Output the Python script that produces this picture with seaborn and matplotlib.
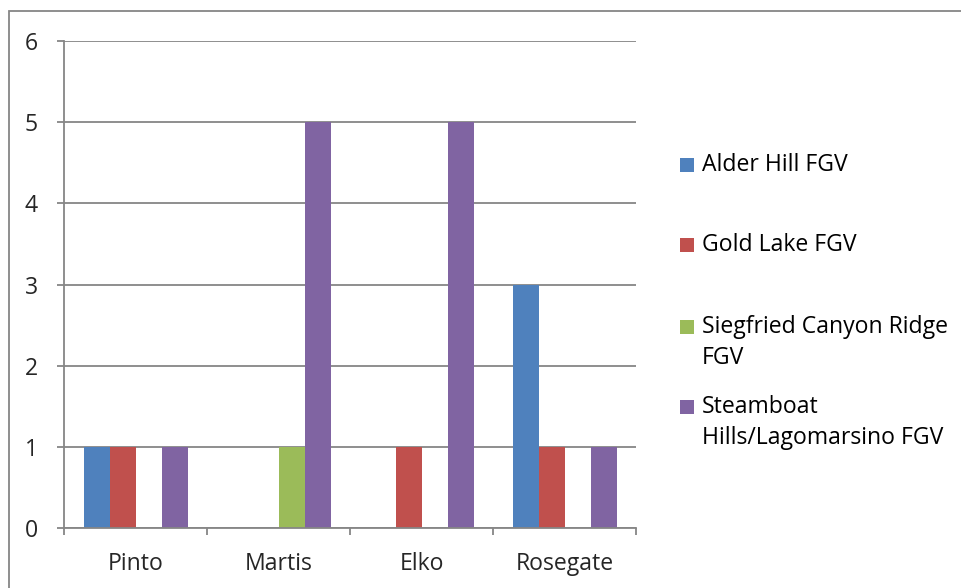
import matplotlib
matplotlib.use("Agg")
import matplotlib.pyplot as plt
from matplotlib.patches import Rectangle
import seaborn as sns
import pandas as pd

# Counts of obsidian sources by projectile point type
point_types = ["Pinto", "Martis", "Elko", "Rosegate"]
sources = [
    "Alder Hill FGV",
    "Gold Lake FGV",
    "Siegfried Canyon Ridge FGV",
    "Steamboat Hills/Lagomarsino FGV",
]
legend_labels = [
    ["Alder Hill FGV"],
    ["Gold Lake FGV"],
    ["Siegfried Canyon Ridge", "FGV"],
    ["Steamboat", "Hills/Lagomarsino FGV"],
]
alder_hill = [1, 0, 0, 3]
gold_lake = [1, 0, 1, 1]
siegfried = [0, 1, 0, 0]
steamboat = [1, 5, 5, 1]
colors = ["#4F81BD", "#C0504D", "#9BBB59", "#8064A2"]

rows = []
for src, vals in zip(sources, [alder_hill, gold_lake, siegfried, steamboat]):
    for pt, v in zip(point_types, vals):
        rows.append({"type": pt, "source": src, "count": v})
df = pd.DataFrame(rows)

sns.set_style("white")
plt.rcParams["font.family"] = ["Open Sans", "DejaVu Sans"]

FS = 16.6
W, H = 961, 588
fig = plt.figure(figsize=(W / 100, H / 100), dpi=100)
ax = fig.add_axes([64 / W, 1 - 528 / H, (636 - 64) / W, (528 - 41) / H])

grid_c = "#868686"
sns.barplot(
    data=df, x="type", y="count", hue="source", order=point_types,
    hue_order=sources, palette=colors, width=4 / 5.5, saturation=1,
    linewidth=0, legend=False, ax=ax,
)

ax.set_xlim(-0.5, 3.5)
ax.set_ylim(0, 6)
ax.set_yticks(range(0, 7))
ax.yaxis.grid(True, color=grid_c, linewidth=1.3)
ax.set_axisbelow(True)
ax.set_xlabel("")
ax.set_ylabel("")

for side in ["top", "right"]:
    ax.spines[side].set_visible(False)
for side in ["left", "bottom"]:
    ax.spines[side].set_color(grid_c)
    ax.spines[side].set_linewidth(1.3)

ax.tick_params(axis="y", length=5, width=1.3, color=grid_c, pad=14,
               labelsize=FS, left=True)
ax.set_xticks([-0.5, 0.5, 1.5, 2.5, 3.5], minor=True)
ax.tick_params(axis="x", which="minor", length=5, width=1.3, color=grid_c,
               bottom=True)
ax.tick_params(axis="x", which="major", length=0, pad=17, labelsize=FS)

# Legend entries with the swatch aligned to the first text line
entry_rows = [165, 245, 327, 407]
line_step = 31
for color, lines, y0 in zip(colors, legend_labels, entry_rows):
    fig.add_artist(Rectangle((680 / W, 1 - (y0 + 7) / H), 14 / W, 14 / H,
                             transform=fig.transFigure, color=color, lw=0))
    for i, line in enumerate(lines):
        fig.text(702 / W, 1 - (y0 + i * line_step) / H, line,
                 fontsize=FS, va="center", ha="left", color="black")

# Outer chart frame
fig.add_artist(Rectangle((9 / W, -0.5), 2, 1.5 - 11 / H,
                         transform=fig.transFigure, fill=False,
                         edgecolor=grid_c, linewidth=1.3))

fig.savefig("out.png", dpi=100)
